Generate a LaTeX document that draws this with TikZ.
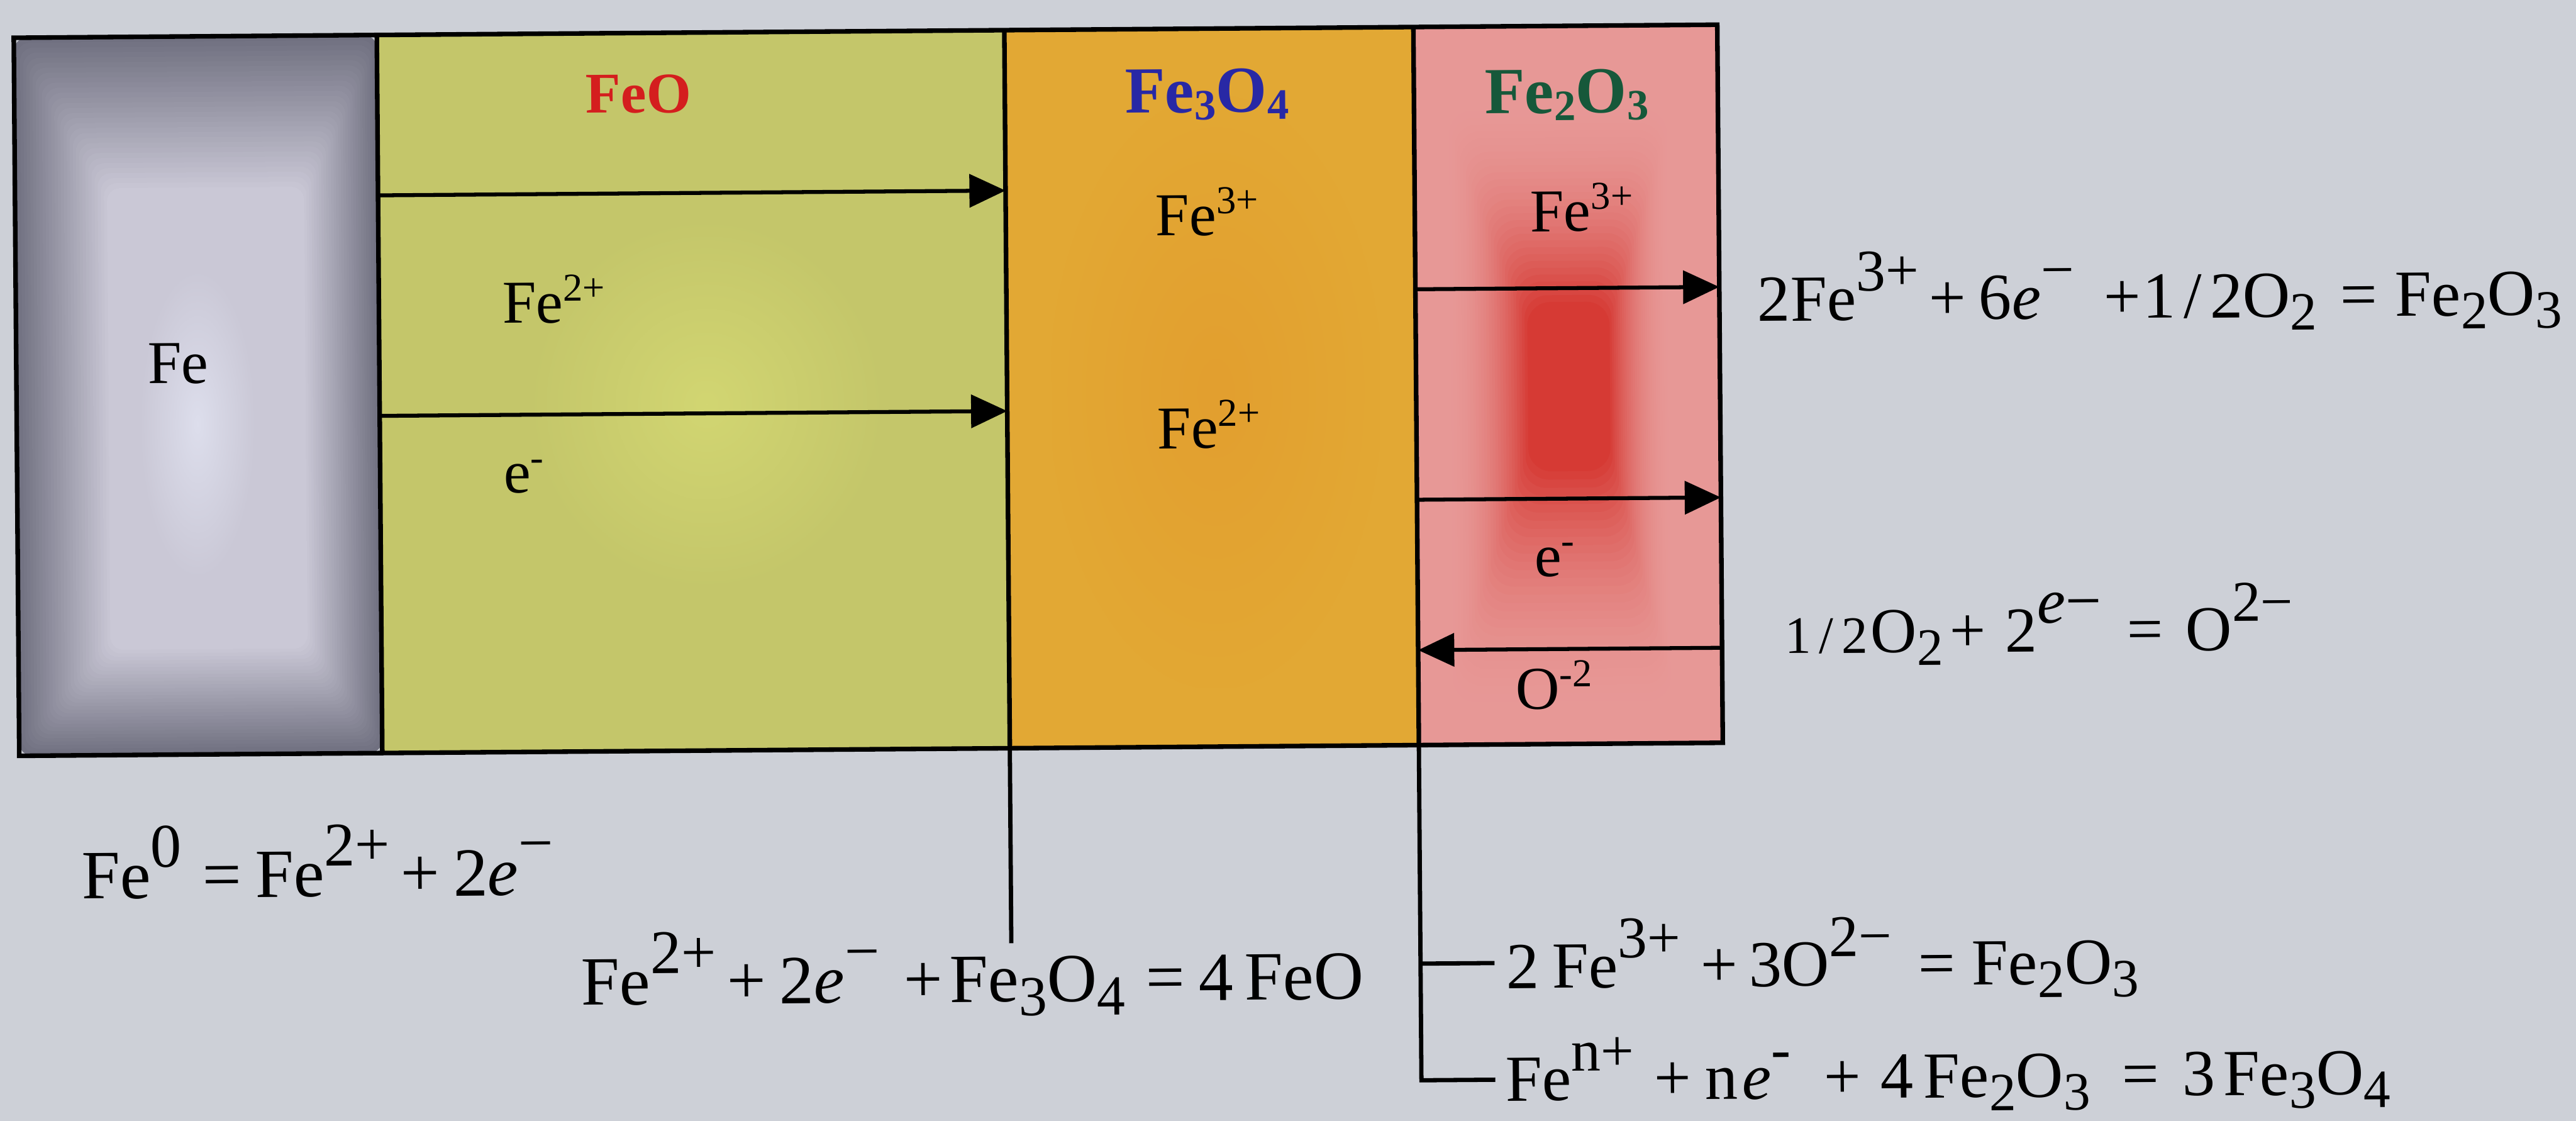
\documentclass[tikz,border=0pt]{standalone}
\usepackage{fontspec}
\usepackage{graphicx}
\setmainfont{Liberation Serif}
\usetikzlibrary{arrows.meta,fadings}

\definecolor{bg}{RGB}{205,208,215}
\definecolor{feEdge}{RGB}{112,112,128}
\definecolor{feLight}{RGB}{202,200,214}
\definecolor{feCore}{RGB}{226,228,242}
\definecolor{feoC}{RGB}{196,198,106}
\definecolor{feoL}{RGB}{210,214,114}
\definecolor{magC}{RGB}{226,168,52}
\definecolor{magM}{RGB}{228,150,42}
\definecolor{hemC}{RGB}{231,152,150}
\definecolor{hemM}{RGB}{214,58,52}
\definecolor{feoT}{RGB}{212,30,30}
\definecolor{magT}{RGB}{40,40,165}
\definecolor{hemT}{RGB}{22,88,58}

\tikzfading[name=softglow, inner color=transparent!0, outer color=transparent!100]

\newcommand\SU[1]{\raisebox{0.45em}{\scalebox{0.9}{#1}}}
\newcommand\SUF[1]{\raisebox{0.45em}{#1}}
\newcommand\SB[1]{\raisebox{-0.2em}{\scalebox{0.82}{#1}}}
\newcommand\TSU[1]{\raisebox{0.36em}{\scalebox{0.65}{#1}}}
\newcommand\LSB[1]{\raisebox{-0.11em}{\scalebox{0.66}{#1}}}
\newcommand\ee{\textit{e}}

\begin{document}
\begin{tikzpicture}[x=1pt,y=-1pt,
  boxtext/.style={font=\fontsize{37}{42}\selectfont, inner sep=0pt, anchor=base west},
  lbl/.style={font=\bfseries\fontsize{40}{46}\selectfont, inner sep=0pt, anchor=base},
  eqr/.style={font=\fontsize{40}{46}\selectfont, inner sep=0pt, anchor=base west},
  eqb/.style={font=\fontsize{42}{48}\selectfont, inner sep=0pt, anchor=base west},
  eqc/.style={font=\fontsize{40}{46}\selectfont, inner sep=0pt, anchor=base west},
  frame/.style={line width=2.8pt, line join=miter},
  arr/.style={line width=2.4pt, -{Triangle[length=22pt,width=20pt]}},
  lead/.style={line width=2.6pt}]

\useasboundingbox (0,0) rectangle (1568,682);
\fill[bg] (0,0) rectangle (1568,682);

\begin{scope}[rotate around={0.44:(528,237)}, every node/.append style={transform shape}]
  % Fe column: soft rectangular glow
  \foreach \k in {0,...,30}{
    \pgfmathsetmacro\t{\k/30}
    \pgfmathsetmacro\p{100*\t}
    \fill[feLight!\p!feEdge, rounded corners=8pt] ({10+56*\t},{19+92*\t}) rectangle ({231-45*\t},{456-64*\t});
  }
  \fill[feCore, path fading=softglow, fill opacity=0.8] (85,160) rectangle (155,350);
  % FeO column
  \fill[feoC] (231,19) rectangle (613,456);
  \fill[feoL, path fading=softglow] (320,130) rectangle (540,360);
  % Fe3O4 column
  \fill[magC] (613,19) rectangle (862,456);
  \fill[magM, path fading=softglow, fill opacity=0.5] (640,60) rectangle (840,420);
  % Fe2O3 column: soft red core
  \fill[hemC] (862,19) rectangle (1047,456);
  \foreach \k in {0,...,30}{
    \pgfmathsetmacro\t{\k/30}
    \pgfmathsetmacro\p{100*\t*\t}
    \fill[hemM!\p!hemC, rounded corners=14pt] ({880+50*\t},{62+125*\t}) rectangle ({1018-38*\t},{440-150*\t});
  }

  % frame and dividers
  \draw[frame] (10,19) rectangle (1047,456);
  \draw[frame] (231,19) -- (231,456);
  \draw[frame] (613,19) -- (613,456);
  \draw[frame] (862,19) -- (862,456);

  % arrow coordinates
  \coordinate (a1s) at (231,116.6); \coordinate (a1e) at (613,116.6);
  \coordinate (a2s) at (231,250.8); \coordinate (a2e) at (613,250.8);
  \coordinate (b1s) at (862,178.6); \coordinate (b1e) at (1047,178.6);
  \coordinate (b2s) at (862,306.7); \coordinate (b2e) at (1047,306.7);
  \coordinate (b3s) at (1047,398.2); \coordinate (b3e) at (862,398.2);
  \draw[arr] (a1s) -- (a1e);
  \draw[arr] (a2s) -- (a2e);
  \draw[arr] (b1s) -- (b1e);
  \draw[arr] (b2s) -- (b2e);
  \draw[arr] (b3s) -- (b3e);

  % column labels
  \node[lbl, text=feoT, font=\bfseries\fontsize{35}{40}\selectfont] (lfeo) at (390,67.5) {FeO};
  \node[lbl, text=magT] (lmag) at (736,70) {Fe\LSB{3}O\LSB{4}};
  \node[lbl, text=hemT] (lhem) at (955,72) {Fe\LSB{2}O\LSB{3}};

  % texts in columns
  \node[boxtext, anchor=base] (tfe) at (108.5,230) {Fe};
  \node[boxtext] (tfeo1) at (306,195) {Fe\TSU{2+}};
  \node[boxtext] (tfeo2) at (306,298.3) {e\TSU{-}};
  \node[boxtext] (tmag1) at (704,144.8) {Fe\TSU{3+}};
  \node[boxtext] (tmag2) at (704,274.4) {Fe\TSU{2+}};
  \node[boxtext] (them1) at (932,144.1) {Fe\TSU{3+}};
  \node[boxtext] (them2) at (933,353.8) {e\TSU{-}};
  \node[boxtext] (them3) at (921,434.6) {O\TSU{-2}};

  % right equations
  \node[eqr] (eq1) at (1070,199.6) {2Fe\SU{3+}\hspace{0.15em}+\hspace{0.2em}6\ee\SU{−}\hspace{0.45em}+\hspace{0.03em}1\hspace{0.12em}/\hspace{0.12em}2O\SB{2}\hspace{0.35em}=\hspace{0.27em}Fe\SB{2}O\SB{3}};
  \node[eqr, font=\fontsize{39}{44}\selectfont] (eq2) at (1085,402) {\scalebox{0.82}{1\hspace{0.15em}/\hspace{0.15em}2}\hspace{0.05em}O\SB{2}\hspace{0.1em}+\hspace{0.3em}2\SUF{\ee−}\hspace{0.4em}=\hspace{0.35em}O\SU{2−}};

  % bottom equations
  \node[eqb] (eq3) at (47.3,543.2) {Fe\SU{0}\hspace{0.3em}=\hspace{0.2em}Fe\SU{2+}\hspace{0.15em}+\hspace{0.2em}2\ee\SU{−}};
  \node[eqb] (eq4) at (351,610.3) {Fe\SU{2+}\hspace{0.15em}+\hspace{0.2em}2\ee\SU{−}\hspace{0.35em}+\hspace{0.1em}Fe\SB{3}O\SB{4}\hspace{0.3em}=\hspace{0.2em}4\hspace{0.17em}FeO};
  \node[eqc] (eq5) at (914,604.5) {2\hspace{0.2em}Fe\SU{3+}\hspace{0.3em}+\hspace{0.17em}3O\SU{2−}\hspace{0.4em}=\hspace{0.25em}Fe\SB{2}O\SB{3}};
  \node[eqc] (eq6) at (913,673) {Fe\SU{n+}\hspace{0.3em}+\hspace{0.22em}n\hspace{0.06em}\ee\SU{-}\hspace{0.5em}+\hspace{0.3em}4\hspace{0.15em}Fe\SB{2}O\SB{3}\hspace{0.48em}=\hspace{0.36em}3\hspace{0.12em}Fe\SB{3}O\SB{4}};

  % leader lines
  \coordinate (l1t) at (613,456); \coordinate (l1b) at (613,574.7);
  \coordinate (l2t) at (862,456); \coordinate (l2b) at (862,660);
  \coordinate (l2m) at (862,589); \coordinate (l2n) at (907,589);
  \coordinate (l2e) at (907,660);
  \draw[lead] (l1t) -- (l1b);
  \draw[lead, line join=miter] (l2t) -- (l2b) -- (l2e);
  \draw[lead] (l2m) -- (l2n);
\end{scope}
\end{tikzpicture}
\end{document}
